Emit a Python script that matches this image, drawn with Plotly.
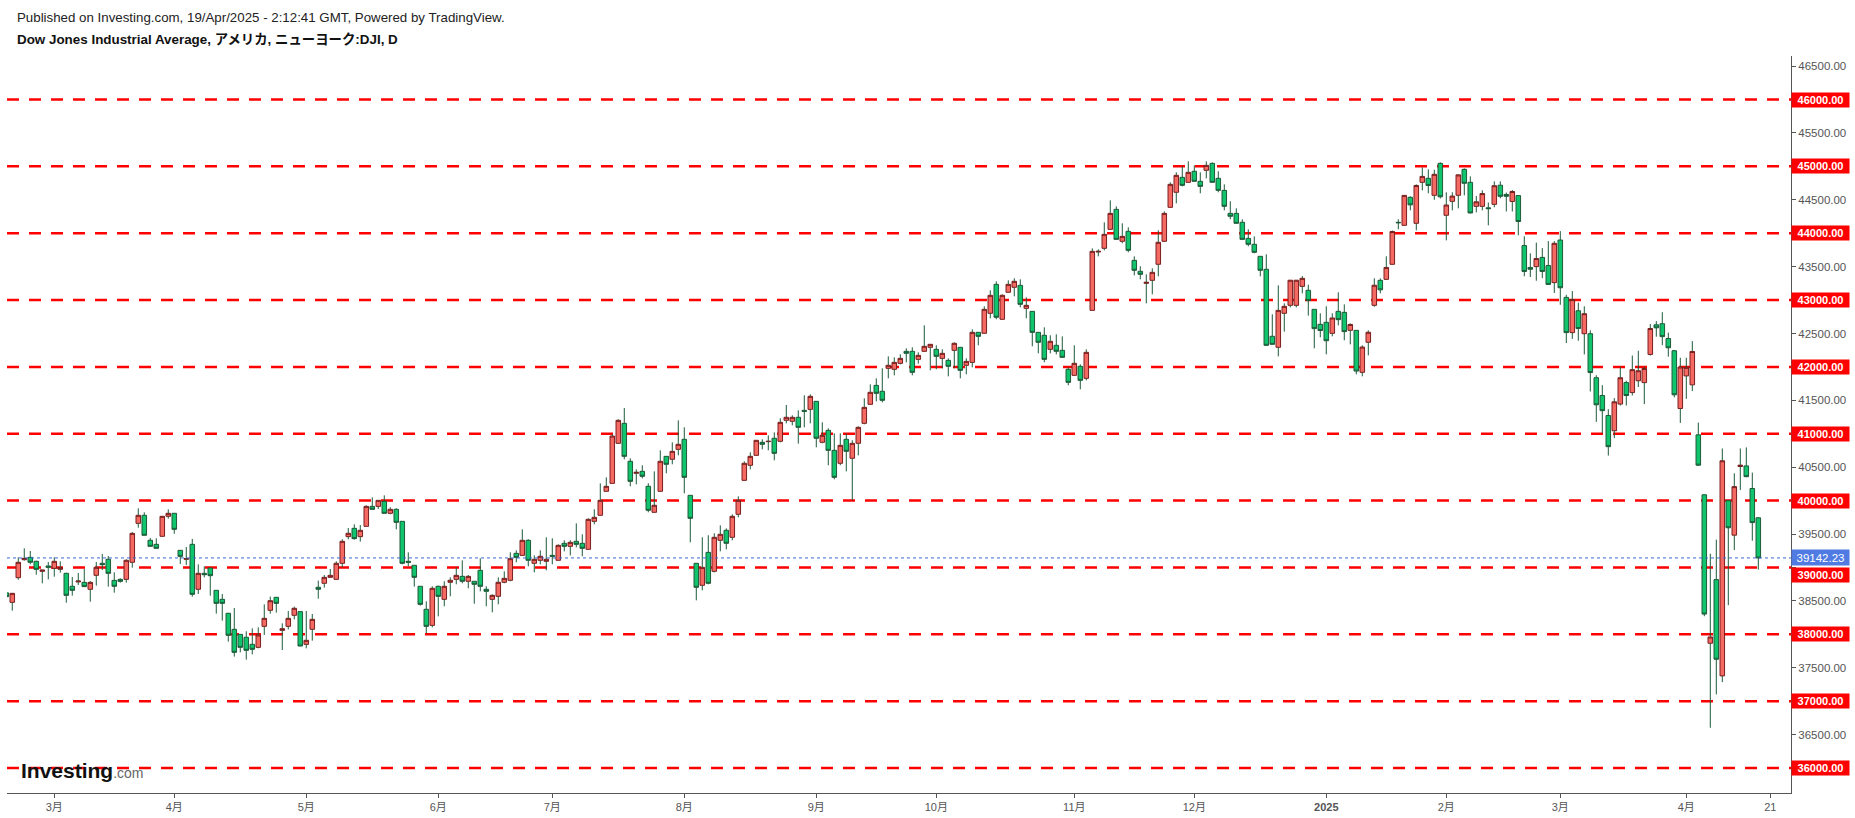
import pandas as pd
import plotly.graph_objects as go

# ---- trading calendar (NYSE holidays removed; TradingView keeps a 25 Dec bar) ----
holidays = ["2024-03-29", "2024-05-27", "2024-06-19", "2024-07-04", "2024-09-02",
            "2024-11-28", "2025-01-01", "2025-01-09", "2025-01-20", "2025-02-17"]

# ---- daily OHLC, 20 Feb 2024 .. 17 Apr 2025 ----
open_ = [
    # Feb 2024
    38620, 38478, 38847, 39116, 39151, 39092, 38942, 39022,
    # Mar
    38987, 38972, 38912, 38718, 38783, 38777, 38673, 38882, 39062, 39122,
    38807, 38822, 38822, 39077, 39660, 39780, 39406, 39346, 39466, 39765,
    # Apr
    39810, 39256, 39122, 39346, 38673, 38912, 38992, 38658, 38523, 38314, 38074,
    37999, 37955, 37850, 37805, 38119, 38359, 38553, 38059, 38119, 38284, 38339,
    # May
    37850, 38075, 38703, 38763, 38852, 38822, 39062, 39461, 39585, 39461, 39615,
    39914, 39914, 39989, 39810, 39870, 39690, 39092, 39032, 38718, 38374, 38134,
    # Jun
    38718, 38523, 38778, 38822, 38867, 38793, 38793, 38957, 38673, 38523,
    38568, 38778, 38808, 39211, 39181, 39406, 39062, 39107, 39092,
    # Jul
    39181, 39107, 39361, 39316, 39391, 39361, 39271, 39690, 39780, 40139, 40258,
    40857, 41156, 40588, 40408, 40438, 40214, 39825, 40139, 40662, 40618, 40767,
    # Aug
    40917, 40079, 39062, 38733, 39226, 38942, 39406, 39556, 39451, 39795, 40303,
    40528, 40677, 40872, 40882, 40932, 40887, 41201, 41186, 41246, 41350, 41365,
    # Sep
    41485, 40872, 41051, 40752, 40558, 40917, 40633, 40857, 41156, 41440,
    41724, 41635, 41979, 41964, 42053, 42233, 42233, 42113, 42233, 42293,
    # Oct
    42263, 42128, 42098, 42248, 42293, 42024, 42068, 42517, 42503, 42802, 43235, 42712,
    43116, 43191, 43220, 42876, 42831, 42517, 42473, 42263, 42323, 42248, 41964,
    # Nov
    41874, 42009, 41829, 42846, 43719, 43774, 44058, 44357, 43879, 44028,
    43594, 43430, 43250, 43295, 43535, 43879, 44387, 44612, 44836, 44761,
    # Dec
    44926, 44776, 44941, 45045, 44821, 44641, 44297, 44297, 44163, 43923, 43834,
    43654, 43460, 42458, 42293, 42802, 42921, 42921, 43205, 43146, 42861, 42637,
    # Jan 2025
    42667, 42502, 42831, 42816, 42547, 42547, 41919, 42368, 42921, 43295,
    43310, 43535, 44163, 44118, 44537, 44148, 44761, 44821, 44567, 45045,
    # Feb
    44268, 44477, 44567, 44955, 44761, 44402, 44402, 44380, 44432, 44718,
    44580, 44475, 44563, 43815, 43488, 43500, 43638, 43516, 43261,
    # Mar
    43898, 43040, 42513, 42840, 42497, 42497, 41838, 41572, 41273, 41045, 41444,
    41765, 41616, 41793, 41765, 42187, 42630, 42646, 42425, 42242, 41378,
    # Apr
    41865, 41732, 40984, 40087, 37866, 38818, 37378, 40000, 39483, 40510,
    40519, 40181, 39743,
]

high = [
    38650, 38613, 39152, 39286, 39246, 39100, 38962, 39082,
    39152, 39092, 38920, 38857, 38917, 38977, 38797, 39082, 39201, 39171,
    38927, 38837, 39122, 39530, 39884, 39825, 39441, 39436, 39770, 39869,
    39815, 39260, 39306, 39426, 39047, 39017, 38995, 38660, 38603, 38320, 38394,
    38000, 38045, 38089, 38104, 38448, 38563, 38555, 38164, 38349, 38414, 38345,
    38349, 38304, 38803, 38887, 38977, 39092, 39421, 39590, 39645, 39635, 39929,
    40049, 40005, 40079, 39900, 39885, 39695, 39226, 39035, 38720, 38493, 38718,
    38728, 38793, 38852, 39002, 39107, 38887, 38795, 39137, 38718, 38598,
    38852, 38942, 39226, 39256, 39570, 39421, 39181, 39256, 39451,
    39436, 39346, 39406, 39406, 39660, 39496, 39735, 39870, 40258, 40348, 40991,
    41216, 41385, 40633, 40468, 40528, 40259, 40438, 40752, 40665, 40872, 41201,
    41096, 40080, 39065, 39451, 39481, 39511, 39630, 39585, 39795, 40064, 40588,
    40722, 40905, 40917, 40976, 41021, 41231, 41430, 41276, 41350, 41575, 41590,
    41490, 41171, 41081, 41006, 41006, 41006, 40902, 41111, 41530, 41739,
    41829, 41979, 42158, 42143, 42188, 42278, 42293, 42218, 42622, 42340,
    42323, 42263, 42128, 42368, 42295, 42128, 42562, 42520, 42906, 43146, 43280, 43086,
    43295, 43325, 43310, 43041, 42835, 42520, 42592, 42473, 42487, 42457, 41994,
    42323, 42039, 42263, 43774, 43759, 44163, 44492, 44402, 44148, 44088,
    43654, 43505, 43385, 43475, 44043, 44327, 44761, 44911, 45000, 45075,
    45015, 44911, 45075, 45060, 44926, 44731, 44477, 44372, 44208, 44058, 43953,
    43655, 43684, 42787, 43220, 42951, 43300, 43300, 43360, 43230, 42861, 42802,
    42906, 42802, 43116, 42936, 42652, 42550, 42323, 42547, 43325, 43325,
    43654, 44040, 44208, 44570, 44552, 44731, 44985, 44955, 44950, 45060,
    44612, 44612, 44881, 44970, 44851, 44557, 44642, 44460, 44776, 44776,
    44608, 44646, 44568, 43954, 43699, 43860, 43777, 43882, 43882,
    44031, 43079, 43134, 42962, 42907, 42547, 41876, 41727, 41367, 41533, 42004,
    41793, 42170, 42242, 42004, 42641, 42685, 42818, 42513, 42253, 42137,
    42137, 42386, 41167, 40090, 39206, 39416, 40780, 40005, 40408, 40780,
    40796, 40419, 39750,
]

low = [
    38420, 38354, 38817, 39102, 39047, 38892, 38763, 38822,
    38862, 38922, 38473, 38578, 38738, 38710, 38488, 38728, 38962, 38713,
    38623, 38773, 38773, 38997, 39595, 39481, 39316, 39286, 39460, 39730,
    39505, 39052, 39037, 38563, 38603, 38852, 38578, 38309, 38204, 37890, 37666,
    37730, 37621, 37700, 37790, 37990, 38309, 38324, 37765, 38074, 38224, 37820,
    37790, 37905, 38533, 38698, 38850, 38820, 39002, 39421, 39416, 39386, 39612,
    39865, 39875, 39805, 39795, 39570, 39047, 39017, 38713, 38429, 38015, 38104,
    38269, 38419, 38568, 38748, 38763, 38688, 38458, 38643, 38419, 38329,
    38448, 38763, 38793, 39077, 39180, 39017, 38927, 39047, 38957,
    39047, 39105, 39241, 39181, 39301, 39167, 39270, 39645, 39778, 40135, 40255,
    40847, 40618, 40214, 40244, 40333, 39825, 39820, 40135, 40408, 40543, 40677,
    40109, 39376, 38508, 38658, 38748, 38927, 39241, 39271, 39406, 39750, 40300,
    40468, 40675, 40767, 40752, 40603, 40872, 41156, 41126, 40852, 41096, 41156,
    40797, 40857, 40528, 40318, 40528, 40438, 40004, 40677, 41141, 41438,
    41485, 41470, 41829, 41874, 42038, 42068, 41874, 42049, 42230, 41949,
    41964, 41979, 41859, 41979, 41829, 41889, 41994, 42323, 42500, 42727, 42712, 42710,
    43115, 43056, 42891, 42727, 42308, 42203, 42069, 42203, 42188, 42140, 41725,
    41870, 41665, 41799, 42845, 43654, 43744, 44055, 43905, 43849, 43714,
    43370, 43310, 42951, 43086, 43355, 43875, 44385, 44447, 44701, 44758,
    44775, 44597, 44821, 44758, 44612, 44342, 44208, 44145, 43905, 43804, 43699,
    43355, 42320, 42335, 42158, 42527, 42891, 42891, 43100, 42767, 42278, 42442,
    42188, 42458, 42622, 42398, 42338, 41889, 41859, 42173, 42900, 43101,
    43300, 43530, 44058, 44115, 44342, 44043, 44641, 44597, 44500, 44520,
    43893, 44342, 44372, 44566, 44297, 44312, 44342, 44118, 44387, 44522,
    44325, 44325, 43970, 43356, 43345, 43289, 43328, 43230, 43106,
    42929, 42358, 42419, 42392, 42187, 41632, 41178, 41006, 40674, 40935, 41422,
    41422, 41572, 41699, 41444, 42170, 42452, 42325, 42153, 41544, 41162,
    41522, 41638, 40519, 38270, 36602, 37101, 37284, 38436, 39261, 40159,
    40350, 39400, 38968,
]

close = [
    38563, 38613, 39077, 39136, 39077, 38972, 38962, 39002,
    39092, 38997, 38583, 38658, 38797, 38713, 38777, 39002, 39042, 38912,
    38718, 38792, 39107, 39510, 39780, 39481, 39316, 39286, 39765, 39810,
    39570, 39166, 39131, 38598, 38912, 38892, 38877, 38463, 38463, 37985, 37730,
    37805, 37760, 37775, 37990, 38239, 38503, 38463, 38084, 38239, 38389, 37825,
    37910, 38224, 38673, 38852, 38882, 39062, 39391, 39511, 39431, 39556, 39914,
    39870, 40004, 39810, 39870, 39675, 39062, 39077, 38852, 38448, 38119, 38688,
    38568, 38718, 38808, 38882, 38793, 38867, 38748, 38718, 38643, 38583,
    38778, 38837, 39131, 39151, 39406, 39107, 39122, 39167, 39122,
    39167, 39331, 39316, 39376, 39346, 39286, 39720, 39750, 40004, 40214, 40966,
    41201, 40662, 40288, 40423, 40363, 39855, 39930, 40588, 40543, 40737, 40842,
    40348, 39735, 38703, 39002, 38763, 39451, 39496, 39361, 39765, 40004, 40558,
    40662, 40902, 40842, 40887, 40707, 41171, 41246, 41246, 41096, 41335, 41560,
    40932, 40977, 40752, 40348, 40827, 40737, 40857, 41096, 41395, 41620,
    41605, 41500, 42024, 42068, 42128, 42203, 41919, 42173, 42308, 42338,
    42158, 42203, 42009, 42353, 41949, 42083, 42517, 42457, 42861, 43071, 42742, 43071,
    43235, 43280, 42936, 42921, 42517, 42368, 42113, 42383, 42233, 42143, 41769,
    42054, 41799, 42218, 43729, 43729, 43983, 44297, 43908, 43953, 43744,
    43445, 43385, 43265, 43415, 43864, 44297, 44731, 44866, 44716, 44911,
    44776, 44701, 45015, 44761, 44641, 44402, 44253, 44148, 43908, 43834, 43714,
    43445, 42323, 42338, 42846, 42906, 43297, 43297, 43325, 42992, 42573, 42544,
    42392, 42732, 42707, 42528, 42635, 41938, 42297, 42518, 43222, 43153,
    43488, 44025, 44157, 44566, 44424, 44714, 44850, 44714, 44881, 44545,
    44422, 44556, 44873, 44747, 44303, 44470, 44593, 44368, 44711, 44552,
    44552, 44624, 44175, 43428, 43461, 43621, 43428, 43234, 43849,
    43184, 42513, 43007, 42574, 42796, 41915, 41433, 41345, 40807, 41478, 41838,
    41572, 41959, 41943, 41976, 42574, 42585, 42453, 42286, 41583, 41998,
    41993, 42231, 40530, 38303, 37960, 37627, 40596, 39594, 40209, 40530,
    40358, 39671, 39142.23,
]

levels = [36000, 37000, 38000, 39000, 40000, 41000, 42000, 43000, 44000, 45000, 46000]
half_levels = [36500, 37500, 38500, 39500, 40500, 41500, 42500, 43500, 44500, 45500, 46500]
last_price = 39142.23

month_ticks = ["2024-03-01", "2024-04-01", "2024-05-01", "2024-06-03", "2024-07-01",
               "2024-08-01", "2024-09-03", "2024-10-01", "2024-11-01", "2024-12-02",
               "2025-01-02", "2025-02-03", "2025-03-03", "2025-04-01", "2025-04-21"]
month_text = ["3月", "4月", "5月", "6月", "7月", "8月", "9月", "10月", "11月", "12月",
              "<b>2025</b>", "2月", "3月", "4月", "21"]

dates = pd.bdate_range("2024-02-20", "2025-04-17")
dates = dates[~dates.isin(pd.to_datetime(holidays))]

FONT = "Liberation Sans, Arial, Noto Sans CJK JP, sans-serif"
WICK = "#1D5B39"

# wicks are dark for every candle, drawn only outside the body
body_top = [max(o, c) for o, c in zip(open_, close)]
body_bot = [min(o, c) for o, c in zip(open_, close)]
wick_x, wick_y = [], []
for d, h, l, t, b in zip(dates, high, low, body_top, body_bot):
    wick_x += [d, d, None, d, d, None]
    wick_y += [h, t, None, b, l, None]

fig = go.Figure()

fig.add_trace(go.Candlestick(
    x=dates, open=open_, high=body_top, low=body_bot, close=close,
    increasing=dict(fillcolor="#F46A62", line=dict(color="#7A1E1E", width=1)),
    decreasing=dict(fillcolor="#0FC46C", line=dict(color=WICK, width=1)),
    showlegend=False, hoverinfo="skip",
))
fig.add_trace(go.Scatter(
    x=wick_x, y=wick_y, mode="lines", line=dict(color=WICK, width=1),
    showlegend=False, hoverinfo="skip",
))

# red dashed support / resistance levels
for lv in levels:
    fig.add_shape(type="line", xref="paper", x0=0, x1=1, yref="y", y0=lv, y1=lv,
                  line=dict(color="#FF0000", width=2.5, dash="12px,10px"), layer="below")
    fig.add_annotation(xref="paper", x=1, xanchor="left", yref="y", y=lv,
                       yshift=-8 if lv == 39000 else 0,
                       text="<b>%.2f</b>" % lv, showarrow=False, width=57, height=14,
                       borderpad=0, bgcolor="#FF0000",
                       font=dict(color="white", size=11, family=FONT))

# last price line + label
fig.add_shape(type="line", xref="paper", x0=0, x1=1, yref="y", y0=last_price, y1=last_price,
              line=dict(color="#3A66D8", width=1, dash="dot"))
fig.add_annotation(xref="paper", x=1, xanchor="left", yref="y", y=last_price,
                   text="%.2f" % last_price, showarrow=False, width=57, height=15,
                   borderpad=0, bgcolor="#4F7BE3",
                   font=dict(color="white", size=11.5, family=FONT))

# header
fig.add_annotation(xref="paper", x=0, xanchor="left", xshift=8, yref="paper", y=1,
                   yanchor="middle", yshift=39, showarrow=False,
                   text="Published on Investing.com, 19/Apr/2025 - 2:12:41 GMT, Powered by TradingView.",
                   font=dict(size=13.3, color="#222", family=FONT))
fig.add_annotation(xref="paper", x=0, xanchor="left", xshift=8, yref="paper", y=1,
                   yanchor="middle", yshift=17, showarrow=False,
                   text="<b>Dow Jones Industrial Average, アメリカ, ニューヨーク:DJI, D</b>",
                   font=dict(size=13.4, color="#111", family=FONT))

# watermark logo
fig.add_annotation(xref="paper", x=0, xanchor="left", xshift=12, yref="paper", y=0,
                   yanchor="middle", yshift=23, showarrow=False,
                   text="<b>Investing</b><span style='font-size:14px;color:#666'>.com</span>",
                   font=dict(size=21, color="#111", family=FONT))

fig.update_layout(
    width=1855, height=818,
    margin=dict(l=7, r=64, t=56, b=25, autoexpand=False),
    paper_bgcolor="white", plot_bgcolor="white",
    font=dict(family=FONT, size=11, color="#555"),
    boxgap=0.13, boxgroupgap=0.13,
    xaxis=dict(
        rangeslider=dict(visible=False),
        range=["2024-02-20 02:53", "2025-04-24 10:48"],
        rangebreaks=[dict(bounds=["sat", "mon"]), dict(values=holidays)],
        tickvals=month_ticks, ticktext=month_text,
        showgrid=False, zeroline=False,
        showline=True, linecolor="#555", linewidth=1,
        ticks="outside", ticklen=4, tickcolor="#555",
        tickfont=dict(size=11, color="#555"),
    ),
    yaxis=dict(
        side="right", range=[35626, 46651],
        tickvals=levels + half_levels,
        ticktext=[""] * len(levels) + ["%.2f" % v for v in half_levels],
        showgrid=False, zeroline=False,
        showline=True, linecolor="#555", linewidth=1,
        ticks="outside", ticklen=4, tickcolor="#555",
        tickfont=dict(size=11.5, color="#555"),
    ),
)

fig.write_html("out.html", config={"displayModeBar": False},
               post_script="document.body.style.margin='0';")
